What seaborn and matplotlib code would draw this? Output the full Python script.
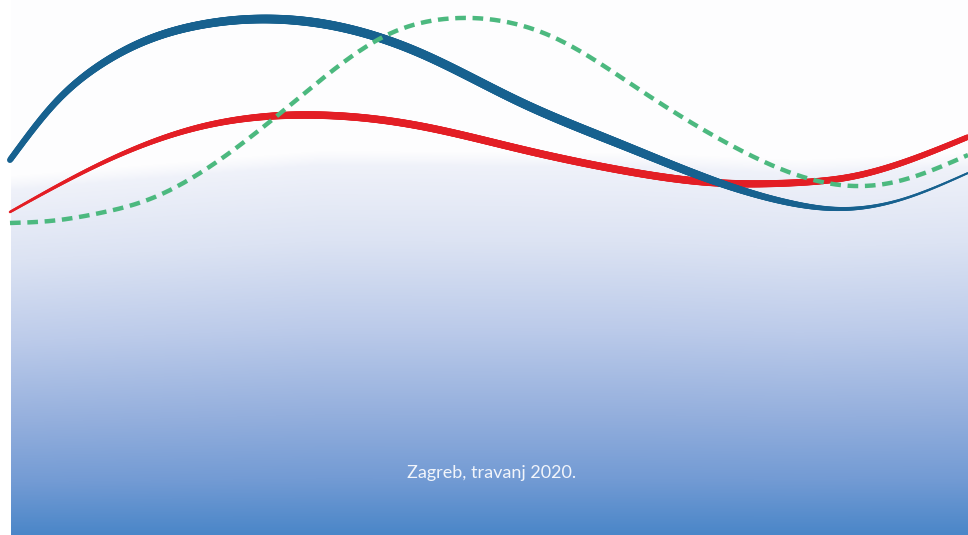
import numpy as np
import pandas as pd
import seaborn as sns
import matplotlib.pyplot as plt
from matplotlib.collections import LineCollection
from matplotlib.colors import to_rgb

# Curve points (x, y in picture pixels, y grows downward)
blue_x = [10, 55, 100, 150, 200, 267, 340, 420, 470, 520, 620, 720, 790, 840, 900, 968]
blue_y = [160, 103, 65, 39, 25, 19, 27, 53, 77, 102, 144, 183, 203, 209, 200, 173]

red_x = [10, 100, 200, 310, 420, 520, 620, 720, 790, 850, 910, 968]
red_y = [212, 164, 127, 115, 126, 149, 170, 183, 183, 177, 160, 137]

green_x = [10, 50, 100, 150, 200, 300, 387, 460, 553, 640, 740, 840, 890, 968]
green_y = [223, 221, 213, 199, 173, 97, 35, 18, 37, 90, 150, 185, 183, 155]

# upper edge of the blue shaded area
band_x = [11, 320, 640, 800, 968]
band_y = [183, 158, 160, 167, 160]

caption = "Zagreb, travanj 2020."

W, H = 968, 535


def smooth(xs, ys, n=800):
    # natural cubic spline through the read points
    x = np.asarray(xs, float)
    y = np.asarray(ys, float)
    h = np.diff(x)
    m = len(x)
    A = np.zeros((m, m))
    b = np.zeros(m)
    A[0, 0] = A[-1, -1] = 1
    for i in range(1, m - 1):
        A[i, i - 1] = h[i - 1]
        A[i, i] = 2 * (h[i - 1] + h[i])
        A[i, i + 1] = h[i]
        b[i] = 6 * ((y[i + 1] - y[i]) / h[i] - (y[i] - y[i - 1]) / h[i - 1])
    M = np.linalg.solve(A, b)
    xq = np.linspace(x[0], x[-1], n)
    k = np.clip(np.searchsorted(x, xq) - 1, 0, m - 2)
    dx0 = xq - x[k]
    dx1 = x[k + 1] - xq
    hk = h[k]
    yq = (M[k] * dx1 ** 3 + M[k + 1] * dx0 ** 3) / (6 * hk) \
        + (y[k] / hk - M[k] * hk / 6) * dx1 + (y[k + 1] / hk - M[k + 1] * hk / 6) * dx0
    return xq, yq


def tapered(ax, xs, ys, wx, wpx, color, z):
    sx, sy = smooth(xs, ys)
    pts = np.column_stack([sx, sy])
    segs = np.stack([pts[:-1], pts[1:]], axis=1)
    mid = 0.5 * (sx[:-1] + sx[1:])
    lw = np.interp(mid, wx, wpx) * 0.72
    lc = LineCollection(segs, linewidths=lw, colors=color, capstyle="round", zorder=z)
    ax.add_collection(lc)


fig = plt.figure(figsize=(W / 100, H / 100), dpi=100)
ax = fig.add_axes([0, 0, 1, 1])

# background: white top, lavender-to-blue gradient below a soft wavy edge
xx = np.arange(W) + 0.5
yy = np.arange(H) + 0.5
X, Y = np.meshgrid(xx, yy)
yb = np.interp(X, band_x, band_y)
t = np.clip((Y - yb) / (H - yb), 0, 1)
stops_t = [0.0, 0.22, 0.45, 0.68, 0.85, 1.0]
stops_c = [to_rgb(c) for c in ["#f1f3fa", "#dce3f3", "#bccbea", "#94afdd", "#739bd4", "#4a86c8"]]
img = np.zeros((H, W, 3))
for k in range(3):
    img[..., k] = np.interp(t, stops_t, [c[k] for c in stops_c])
top = np.array(to_rgb("#fdfdfe"))
a = np.clip((Y - yb) / 14 + 0.5, 0, 1)[..., None]
img = img * a + top * (1 - a)
img[:, :11] = 1.0
ax.imshow(img, extent=(0, W, H, 0), aspect="auto", interpolation="bilinear", zorder=0)

tapered(ax, red_x, red_y, [10, 100, 200, 300, 700, 850, 968],
        [2.5, 4, 6, 7.5, 7.5, 6.5, 5.5], "#e31e25", 2)
tapered(ax, blue_x, blue_y, [10, 150, 300, 600, 700, 790, 840, 900, 968],
        [6, 8, 9, 9, 8, 6, 4, 2.5, 2], "#17618f", 3)

gx, gy = smooth(green_x, green_y)
green = pd.DataFrame({"x": gx, "y": gy})
sns.lineplot(data=green, x="x", y="y", ax=ax, color="#4cb97f", linewidth=3.2,
             sort=False, estimator=None, zorder=4)
ax.lines[-1].set_dashes([2.4, 1.5])
ax.lines[-1].set_dash_capstyle("butt")
ax.set_xlim(0, W)
ax.set_ylim(H, 0)
ax.axis("off")

ax.text(492, 473, caption, ha="center", va="center", fontsize=13,
        family=["Lato", "DejaVu Sans"], color="#f2f5fb", zorder=5)

fig.savefig("out.png", dpi=100)
